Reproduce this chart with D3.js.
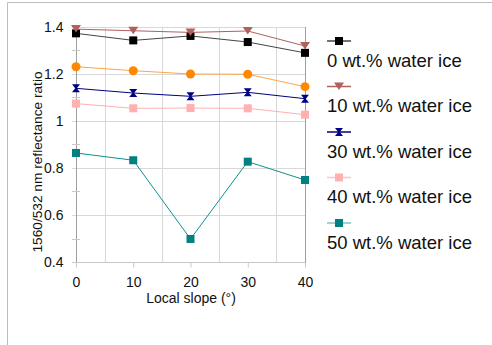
<!DOCTYPE html>
<html>
<head>
<meta charset="utf-8">
<script src="https://cdn.jsdelivr.net/npm/d3@7"></script>
<style>
  body { margin: 0; background: #fff; }
  text { font-family: "Liberation Sans", Arial, sans-serif; fill: #111; }
</style>
</head>
<body>
<div id="chart"></div>
<script>
// data
const slopes = [0, 10, 20, 30, 40];
const ice0  = [1.373, 1.343, 1.362, 1.336, 1.290];
const ice10 = [1.391, 1.384, 1.377, 1.383, 1.319];
const ice20 = [1.231, 1.214, 1.200, 1.199, 1.146];
const ice30 = [1.139, 1.119, 1.105, 1.122, 1.095];
const ice40 = [1.074, 1.054, 1.055, 1.054, 1.027];
const ice50 = [0.864, 0.833, 0.498, 0.827, 0.749];
const xTicks = [0, 10, 20, 30, 40];
const yTicks = [0.4, 0.6, 0.8, 1.0, 1.2, 1.4];
const legendNames = ["0 wt.% water ice", "10 wt.% water ice", "30 wt.% water ice",
                     "40 wt.% water ice", "50 wt.% water ice"];

const series = [
  {values: ice0,  line: "#444", fill: "#000", legLine: "#444", shape: "square", legend: 0},
  {values: ice10, line: "#b0605e", fill: "#b0605e", legLine: "#b0605e", shape: "triangle", legend: 1},
  {values: ice20, line: "#ffa640", fill: "#ff8800", legLine: "#ffa640", shape: "circle", legend: -1},
  {values: ice30, line: "#000080", fill: "#000080", legLine: "#000080", shape: "hourglass", legend: 2},
  {values: ice40, line: "#ffb0b0", fill: "#ffb0b0", legLine: "#ffc4c4", shape: "square", legend: 3},
  {values: ice50, line: "#109090", fill: "#008080", legLine: "#80c4c4", shape: "square", legend: 4}
];

const W = 492, H = 345;
const svg = d3.select("#chart").append("svg")
  .attr("width", W).attr("height", H);

// outer frame (left and top only)
svg.append("path")
  .attr("d", `M7.5,${H} V2.5 H${W}`)
  .attr("fill", "none").attr("stroke", "#bdbdbd");

const x = d3.scaleLinear().domain([0, 40]).range([76, 305]);
const y = d3.scaleLinear().domain([0.4, 1.4]).range([262, 27]);

// grid: vertical at minor x positions, horizontal at major y
svg.append("g").selectAll("line")
  .data([5, 15, 25, 35])
  .join("line")
    .attr("x1", d => Math.round(x(d)) + 0.5).attr("x2", d => Math.round(x(d)) + 0.5)
    .attr("y1", y(1.4)).attr("y2", y(0.4))
    .attr("stroke", "#d8d8d8");

svg.append("g").selectAll("line")
  .data(yTicks)
  .join("line")
    .attr("x1", 72).attr("x2", x(40))
    .attr("y1", d => Math.round(y(d)) + 0.5).attr("y2", d => Math.round(y(d)) + 0.5)
    .attr("stroke", "#d8d8d8");

// y axis
const yAxis = svg.append("g")
  .attr("transform", `translate(${Math.round(x(0)) + 0.5},0)`)
  .call(d3.axisLeft(y).tickValues(yTicks).tickSize(0).tickPadding(13)
    .tickFormat(d => d3.format("")(+d.toFixed(1))));
yAxis.select(".domain").attr("stroke", "#a0a0a0").attr("d", `M0,${y(1.4)}V${y(0.4) + 5}`);
yAxis.selectAll("text").style("font-size", "14px").attr("fill", "#111");

svg.append("g").selectAll("line")
  .data([0.5, 0.7, 0.9, 1.1, 1.3])
  .join("line")
    .attr("x1", 72).attr("x2", 80)
    .attr("y1", d => Math.round(y(d)) + 0.5).attr("y2", d => Math.round(y(d)) + 0.5)
    .attr("stroke", "#c8c8c8");

// right border of plot
svg.append("line")
  .attr("x1", Math.round(x(40)) + 0.5).attr("x2", Math.round(x(40)) + 0.5)
  .attr("y1", y(1.4)).attr("y2", y(0.4) + 5)
  .attr("stroke", "#a0a0a0");

// x axis
const xAxis = svg.append("g")
  .attr("transform", `translate(0,${Math.round(y(0.4)) + 0.5})`)
  .call(d3.axisBottom(x).tickValues(xTicks).tickSize(5).tickPadding(10));
xAxis.select(".domain").attr("stroke", "#c8c8c8").attr("d", `M72,0H${x(40)}`);
xAxis.selectAll(".tick line").attr("stroke", "#c8c8c8");
xAxis.selectAll("text").style("font-size", "14px").attr("fill", "#111");

// axis titles
svg.append("text")
  .attr("x", 191).attr("y", 303)
  .attr("text-anchor", "middle")
  .style("font-size", "14px")
  .text("Local slope (°)");

svg.append("text")
  .attr("transform", `translate(42,162) rotate(-90)`)
  .attr("text-anchor", "middle")
  .style("font-size", "13.7px")
  .text("1560/532 nm reflectance ratio");

function marker(sel, shape, fill) {
  if (shape === "square") {
    sel.append("rect").attr("x", -4).attr("y", -4).attr("width", 8).attr("height", 8).attr("fill", fill);
  } else if (shape === "circle") {
    sel.append("circle").attr("r", 4.5).attr("fill", fill);
  } else if (shape === "triangle") {
    sel.append("path").attr("d", "M-5,-4 L5,-4 L0,3.5 Z").attr("fill", fill);
  } else if (shape === "hourglass") {
    sel.append("path").attr("d", "M-4,-4 H4 L0.8,0 L4,4 H-4 L-0.8,0 Z").attr("fill", fill);
  }
}

const line = d3.line()
  .x((d, i) => x(slopes[i]))
  .y(d => y(d));

series.forEach(s => {
  svg.append("path")
    .attr("d", line(s.values))
    .attr("fill", "none")
    .attr("stroke", s.line)
    .attr("stroke-width", 1);
  svg.append("g").selectAll("g")
    .data(s.values)
    .join("g")
      .attr("transform", (d, i) => `translate(${x(slopes[i])},${y(d)})`)
      .each(function() { marker(d3.select(this), s.shape, s.fill); });
});

// legend
const legend = svg.append("g");
series.filter(s => s.legend >= 0).forEach(s => {
  const row = legend.append("g")
    .attr("transform", `translate(0,${41 + s.legend * 45.5})`);
  row.append("line")
    .attr("x1", 327).attr("x2", 351)
    .attr("stroke", s.legLine).attr("stroke-width", 1.5);
  const m = row.append("g").attr("transform", "translate(339,0)");
  marker(m, s.shape, s.fill);
  row.append("text")
    .attr("x", 327).attr("y", 25.5)
    .style("font-size", "18.5px")
    .text(legendNames[s.legend]);
});
</script>
</body>
</html>
